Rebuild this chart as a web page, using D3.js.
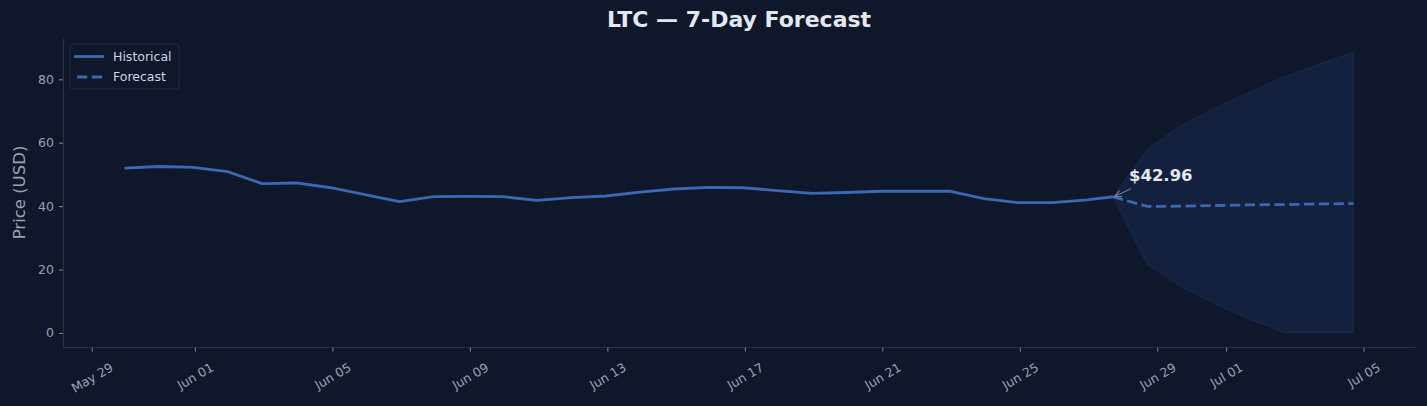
<!DOCTYPE html>
<html>
<head>
<meta charset="utf-8">
<script src="https://cdn.jsdelivr.net/npm/d3@7"></script>
<style>
  html, body { margin: 0; padding: 0; background: #0f172a; }
  svg { display: block; }
  text { font-family: "DejaVu Sans", sans-serif; }
</style>
</head>
<body>
<svg id="chart" width="1427" height="406"></svg>
<script>
// ---- data ----
const histDates = [
  "2020-05-29T22:50","2020-05-30T22:50","2020-05-31T22:50","2020-06-01T22:50","2020-06-02T22:50",
  "2020-06-03T22:50","2020-06-04T22:50","2020-06-05T22:50","2020-06-06T22:50","2020-06-07T22:50",
  "2020-06-08T22:50","2020-06-09T22:50","2020-06-10T22:50","2020-06-11T22:50","2020-06-12T22:50",
  "2020-06-13T22:50","2020-06-14T22:50","2020-06-15T22:50","2020-06-16T22:50","2020-06-17T22:50",
  "2020-06-18T22:50","2020-06-19T22:50","2020-06-20T22:50","2020-06-21T22:50","2020-06-22T22:50",
  "2020-06-23T22:50","2020-06-24T22:50","2020-06-25T22:50","2020-06-26T22:50","2020-06-27T17:00"
];
const histPrices = [
  52.0, 52.5, 52.2, 50.9, 47.1, 47.3, 45.8, 43.6, 41.4, 43.0,
  43.1, 43.0, 41.8, 42.7, 43.2, 44.4, 45.4, 45.9, 45.8, 44.9,
  44.0, 44.3, 44.7, 44.7, 44.7, 42.4, 41.1, 41.1, 42.0, 42.96
];
const fcDates = [
  "2020-06-27T17:00","2020-06-28T17:00","2020-06-29T17:00","2020-06-30T17:00",
  "2020-07-01T17:00","2020-07-02T17:00","2020-07-03T17:00","2020-07-04T17:00"
];
const fcPrices = [42.96, 39.9, 40.0, 40.2, 40.4, 40.5, 40.7, 40.8];
const fcUpper  = [42.96, 58.0, 65.6, 71.2, 76.1, 80.8, 84.8, 88.6];
const fcLower  = [42.96, 21.5, 14.4, 8.9, 4.2, 0.0, 0.0, 0.0];
const xTickDates = ["2020-05-29","2020-06-01","2020-06-05","2020-06-09","2020-06-13","2020-06-17",
                    "2020-06-21","2020-06-25","2020-06-29","2020-07-01","2020-07-05"];
const yTicks = [0, 20, 40, 60, 80];
const titleText = "LTC — 7-Day Forecast";
const yLabel = "Price (USD)";
const seriesNames = ["Historical", "Forecast"];
const lastLabel = "$42.96";

// ---- layout ----
const W = 1427, H = 406;
const plot = { left: 63, right: 1415, top: 38, bottom: 347 };
const lineColor = "#3a68b2";
const bg = "#0f172a";
const spineColor = "#263249";
const tickTextColor = "#94a3b8";

const parse = d3.isoParse;
const hist = histDates.map((d, i) => ({ date: parse(d), v: histPrices[i] }));
const fc = fcDates.map((d, i) => ({ date: parse(d), v: fcPrices[i], hi: fcUpper[i], lo: fcLower[i] }));

const allDates = hist.map(d => d.date).concat(fc.map(d => d.date));
const [dMin, dMax] = d3.extent(allDates);
const span = dMax - dMin;
const x = d3.scaleTime()
  .domain([new Date(+dMin - span * 0.05), new Date(+dMax + span * 0.05)])
  .range([plot.left, plot.right]);

const yMaxData = d3.max(fcUpper.concat(histPrices));
const yMinData = d3.min(fcLower.concat(histPrices));
const yr = yMaxData - yMinData;
const y = d3.scaleLinear()
  .domain([yMinData - yr * 0.05, yMaxData + yr * 0.05])
  .range([plot.bottom, plot.top]);

const svg = d3.select("#chart");
svg.append("rect").attr("width", W).attr("height", H).attr("fill", bg);

// confidence band
const area = d3.area().x(d => x(d.date)).y0(d => y(d.lo)).y1(d => y(d.hi));
svg.append("path").datum(fc).attr("d", area)
  .attr("fill", "#3b82f6").attr("fill-opacity", 0.1)
  .attr("stroke", "#3b82f6").attr("stroke-opacity", 0.12).attr("stroke-width", 1);

// lines
const line = d3.line().x(d => x(d.date)).y(d => y(d.v));
svg.append("path").datum(hist).attr("d", line)
  .attr("fill", "none").attr("stroke", lineColor).attr("stroke-width", 2.8)
  .attr("stroke-linejoin", "round");
svg.append("path").datum(fc).attr("d", line)
  .attr("fill", "none").attr("stroke", lineColor).attr("stroke-width", 2.8)
  .attr("stroke-dasharray", "10.3,4.5");

// axes
const tickFont = 12.5;
const xAxis = d3.axisBottom(x)
  .tickValues(xTickDates.map(parse))
  .tickFormat(d3.timeFormat("%b %d"))
  .tickSizeOuter(0).tickSizeInner(4).tickPadding(4);
const gx = svg.append("g").attr("transform", `translate(0,${plot.bottom})`).call(xAxis);
gx.select(".domain").attr("stroke", spineColor).attr("stroke-width", 1);
gx.selectAll(".tick line").attr("stroke", "#7d8aa0").attr("transform", "translate(0,0.5)");
gx.selectAll(".tick text").each(function () {
  const t = d3.select(this);
  t.attr("font-size", tickFont).attr("fill", tickTextColor).attr("text-anchor", "middle")
   .attr("dy", "0.35em");
  const w = this.getComputedTextLength();
  const h = tickFont * 1.17;
  const bh = w * 0.5 + h * Math.cos(Math.PI / 6);
  t.attr("y", null).attr("transform", `translate(0,${13 + bh / 2}) rotate(-30)`);
});

const yAxis = d3.axisLeft(y).tickValues(yTicks).tickSizeOuter(0).tickSizeInner(4).tickPadding(5);
const gy = svg.append("g").attr("transform", `translate(${plot.left},0)`).call(yAxis);
gy.select(".domain").attr("stroke", spineColor).attr("stroke-width", 1);
gy.selectAll(".tick line").attr("stroke", "#7d8aa0");
gy.selectAll(".tick text").attr("font-size", tickFont).attr("fill", tickTextColor);

// y label
svg.append("text")
  .attr("transform", `translate(25,${(plot.top + plot.bottom) / 2}) rotate(-90)`)
  .attr("text-anchor", "middle").attr("font-size", 16.5).attr("fill", tickTextColor)
  .text(yLabel);

// title
svg.append("text").attr("x", (plot.left + plot.right) / 2).attr("y", 27)
  .attr("text-anchor", "middle").attr("font-size", 22).attr("font-weight", "bold")
  .attr("fill", "#e2e8f0").text(titleText);

// annotation
const last = hist[hist.length - 1];
const px = x(last.date), py = y(last.v);
svg.append("defs").append("marker").attr("id", "arr")
  .attr("viewBox", "0 0 10 10").attr("refX", 9).attr("refY", 5)
  .attr("markerWidth", 8).attr("markerHeight", 8).attr("markerUnits", "userSpaceOnUse")
  .attr("orient", "auto")
  .append("path").attr("d", "M1,1 L9,5 L1,9").attr("fill", "none")
  .attr("stroke", "#7d8aa0").attr("stroke-width", 1.2);
svg.append("line")
  .attr("x1", px + 18).attr("y1", py - 8).attr("x2", px + 2).attr("y2", py - 0.5)
  .attr("stroke", "#7d8aa0").attr("stroke-width", 1).attr("marker-end", "url(#arr)");
svg.append("text").attr("x", px + 16).attr("y", py - 16)
  .attr("font-size", 16.5).attr("font-weight", "bold").attr("fill", "#e2e8f0")
  .text(lastLabel);

// legend
const lg = svg.append("g");
lg.append("rect").attr("x", 70).attr("y", 44).attr("width", 109).attr("height", 45)
  .attr("rx", 3).attr("fill", bg).attr("stroke", "#222d42").attr("stroke-width", 1);
seriesNames.forEach((name, i) => {
  const ly = 56.5 + i * 20.5;
  lg.append("line").attr("x1", 74).attr("x2", 104).attr("y1", ly).attr("y2", ly)
    .attr("stroke", lineColor).attr("stroke-width", 2.8)
    .attr("stroke-dasharray", i === 1 ? "10.3,4.5" : null)
    .attr("stroke-dashoffset", i === 1 ? -3 : null);
  lg.append("text").attr("x", 113).attr("y", ly).attr("dy", "0.35em")
    .attr("font-size", 12.5).attr("fill", "#cbd5e1").text(name);
});
</script>
</body>
</html>
